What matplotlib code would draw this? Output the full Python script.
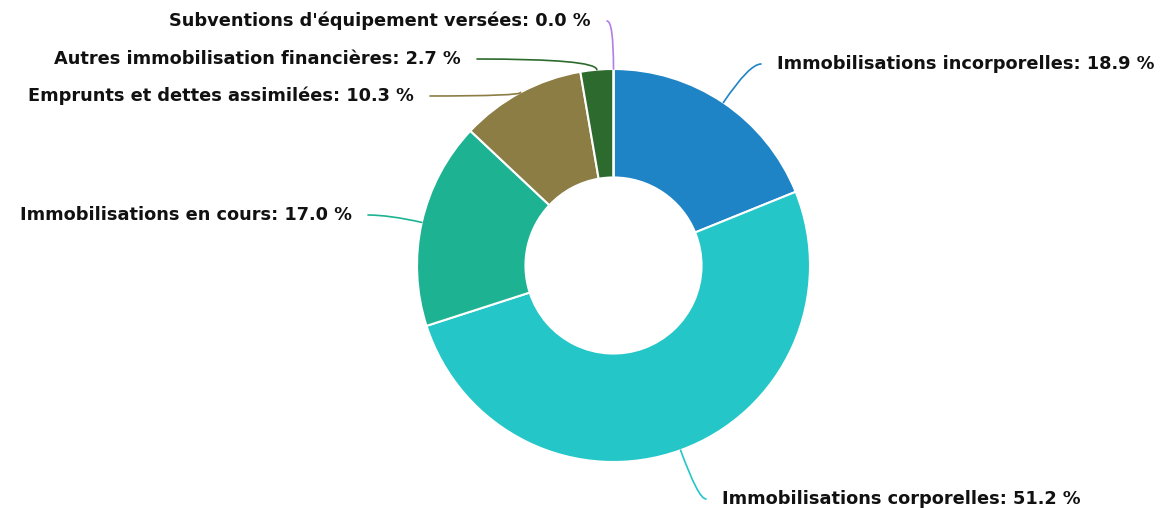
import numpy as np
import matplotlib
matplotlib.use("Agg")
import matplotlib.pyplot as plt

plt.rcParams['font.family'] = ['DejaVu Sans']

labels = ["Immobilisations incorporelles", "Immobilisations corporelles",
          "Immobilisations en cours", "Emprunts et dettes assimilées",
          "Autres immobilisation financières", "Subventions d'équipement versées"]
values = [18.9, 51.2, 17.0, 10.3, 2.7, 0.0]
colors = ["#1f84c6", "#24c6c8", "#1db392", "#8c7d45", "#2d6a2d", "#b27fe8"]

# label text anchor (pixel coords, from top-left) and alignment
label_pos = [(777, 64, "left"), (722, 499, "left"), (352, 215, "right"),
             (414, 96, "right"), (461, 59, "right"), (591, 21, "right")]

W, H = 1166, 508
fig = plt.figure(figsize=(W / 100, H / 100), dpi=100)
ax = fig.add_axes([0, 0, 1, 1])

cx, cy, r = 613.5, H - 265.5, 196.5
wedges, _ = ax.pie(values, colors=colors, startangle=90, counterclock=False,
                   center=(cx, cy), radius=r, frame=True,
                   wedgeprops=dict(width=r * 0.552, edgecolor="white", linewidth=1.5))
ax.set_xlim(0, W)
ax.set_ylim(0, H)
ax.set_aspect("equal")
ax.axis("off")

for w, lab, v, c, (tx, ty, ha) in zip(wedges, labels, values, colors, label_pos):
    ang = np.deg2rad((w.theta1 + w.theta2) / 2)
    ex, ey = cx + r * np.cos(ang), cy + r * np.sin(ang)
    ty = H - ty
    sx = tx - 16 if ha == "left" else tx + 16
    ax.text(tx, ty, f"{lab}: {v:.1f} %", ha=ha, va="center",
            fontsize=12.8, fontweight="bold", color="#111111")
    ax.annotate("", xy=(ex, ey), xytext=(sx, ty),
                arrowprops=dict(arrowstyle="-", color=c, lw=1.2, shrinkA=0, shrinkB=0,
                                connectionstyle=f"angle3,angleA=0,angleB={np.rad2deg(ang):.1f}"))

fig.savefig("out.png", dpi=100)
